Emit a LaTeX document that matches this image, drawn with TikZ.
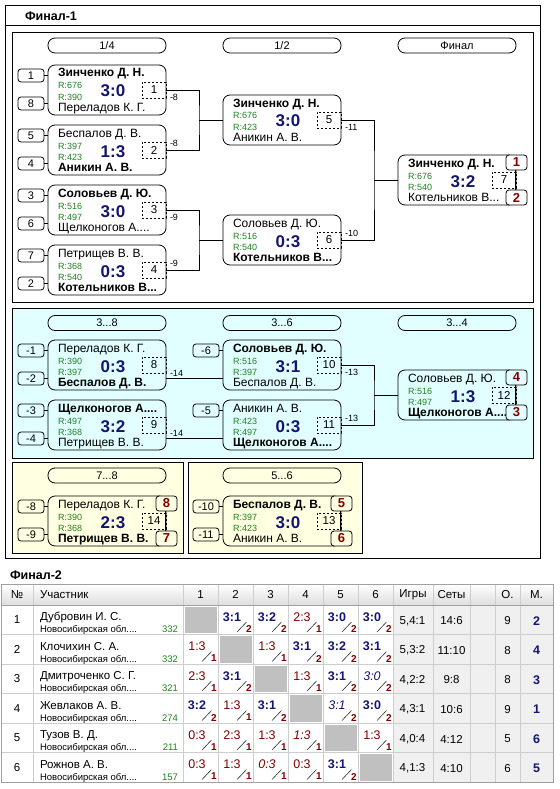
\documentclass[tikz,border=0pt]{standalone}
\usepackage{fontspec}
\setmainfont{Liberation Sans}
\usetikzlibrary{calc}
\definecolor{scblue}{RGB}{20,20,115}
\definecolor{rgreen}{RGB}{30,130,30}
\definecolor{plred}{RGB}{128,0,0}
\definecolor{cyanbg}{RGB}{225,255,255}
\definecolor{yelbg}{RGB}{255,255,225}
\definecolor{tgrid}{RGB}{205,205,205}
\definecolor{tbord}{RGB}{160,160,160}
\definecolor{diagc}{RGB}{192,192,192}
\definecolor{statbg}{RGB}{240,240,240}
\definecolor{hdrc}{RGB}{222,222,222}
\newcommand{\fz}[1]{\fontsize{#1}{#1}\selectfont}
\tikzset{
  every node/.style={inner sep=0pt, outer sep=0pt},
  fzframe/.style={draw=black, line width=0.8pt},
  fzmatch/.style={draw, rounded corners=7pt, minimum width=118, minimum height=50, line width=0.8pt},
  fzpill/.style={draw, rounded corners=7pt, minimum width=118, minimum height=15, font=\fz{11}, line width=0.8pt},
  fzseed/.style={draw, rounded corners=3pt, minimum width=26, minimum height=13, font=\fz{11}, line width=0.8pt},
  fzdash/.style={draw, dash pattern=on 2pt off 2pt, minimum width=24, minimum height=16, font=\fz{11.5}, line width=0.7pt},
  fzplace/.style={draw, rounded corners=3pt, minimum width=21, minimum height=15, font=\bfseries\fz{13}, text=plred, line width=0.8pt},
  fzname/.style={anchor=base west, font=\fz{12}},
  fzrate/.style={anchor=base west, font=\fz{9}, text=rgreen},
  fzscore/.style={anchor=base, font=\bfseries\fz{17}, text=scblue},
  fzlbl/.style={anchor=west, font=\fz{9}},
  fzconn/.style={line width=0.8pt},
  fztxt/.style={font=\fz{11.5}},
  fzreg/.style={font=\fz{9.5}},
  fzW/.style={font=\bfseries\fz{12.5}, text=scblue},
  fzL/.style={font=\fz{12.5}, text=plred},
  fzWI/.style={font=\itshape\fz{12.5}, text=scblue},
  fzLI/.style={font=\itshape\fz{12.5}, text=plred},
  fzpts/.style={font=\bfseries\fz{10}, text=plred},
  fzslash/.style={line width=0.6pt, draw=black!80},
  tblg/.style={draw=tgrid, line width=0.7pt},
  tblb/.style={draw=tbord, line width=0.8pt},
}
\newcommand{\fzMatch}[9]{%
  \begin{scope}[shift={(#2,#3)}]
    \node[fzmatch] (#1) at (59,25) {};
    \node[fzname] (#1t) at (10,12) {#4};
    \node[fzrate] (#1ra) at (10,24) {R:#5};
    \node[fzrate] (#1rb) at (10,35.5) {R:#6};
    \node[fzscore] (#1s) at (65,32) {#7};
    \node[fzdash] (#1d) at (106,25) {#8};
    \node[fzname] (#1b) at (10,46) {#9};
  \end{scope}}
\newcommand{\fzSeed}[4]{%
  \node[fzseed] (#1) at (#2) {#4};
  \draw[fzconn] (#1.east) -- (#1.east -| #3.west);}
\newcommand{\fzPlaces}[6]{% match, name1, text1, name2, text2, fill
  \node[fzplace, fill=#6] (#2) at ($(#1.north east)+(0.5,7.5)$) {#3};
  \node[fzplace, fill=#6] (#4) at ($(#1.south east)+(0.5,-7.5)$) {#5};
  \draw[fzconn] ([xshift=-1pt]#2.south) -- ([xshift=-1pt]#4.north);}
\newcommand{\fzCell}[5]{%
  \pgfmathsetmacro{\fzcx}{183+35*(#2-1)}%
  \pgfmathsetmacro{\fzry}{605+29.5*(#1-1)}%
  \node[#5] (s#1#2) at (\fzcx+14,\fzry+12) {#3};
  \draw[fzslash] (\fzcx+19,\fzry+27) -- (\fzcx+28.5,\fzry+17);
  \node[fzpts] (q#1#2) at (\fzcx+31,\fzry+24) {#4};}
\newcommand{\fzDiag}[1]{%
  \pgfmathsetmacro{\fzcx}{183+35*(#1-1)}%
  \pgfmathsetmacro{\fzry}{605+29.5*(#1-1)}%
  \fill[diagc] (\fzcx+1.5,\fzry+1.5) rectangle (\fzcx+33.5,\fzry+28);}
\newcommand{\fzRow}[7]{%
  \pgfmathsetmacro{\fzry}{605+29.5*(#1-1)}%
  \node[fztxt] (tn#1) at (17,\fzry+15) {#1};
  \node[fztxt, anchor=base west] (tnm#1) at (40,\fzry+15.5) {#2};
  \node[fzreg, anchor=base west] (trg#1) at (40,\fzry+27.5) {Новосибирская обл....};
  \node[fzreg, anchor=base east, text=rgreen] (trt#1) at (178,\fzry+27.5) {#3};
  \node[fztxt] (tg#1) at (412.5,\fzry+16) {#4};
  \node[fztxt] (tst#1) at (451.5,\fzry+16) {#5};
  \node[fztxt] (to#1) at (507.5,\fzry+16) {#6};
  \node[font=\bfseries\fz{12.5}, text=scblue] (tm#1) at (536.5,\fzry+16) {#7};}
\begin{document}
\begin{tikzpicture}[x=1pt,y=-1pt]
\useasboundingbox[fill=white] (0,0) rectangle (559,789);

% ---------- Финал-1 frames
\draw[fzframe] (5,5) rectangle (540,558);
\draw[fzframe] (5,25) -- (540,25);
\node[anchor=west, font=\bfseries\fz{12.5}] (title1) at (25,16) {Финал-1};
\draw[fzframe] (12,32) rectangle (533,302);
\filldraw[fzframe, fill=cyanbg] (12,308) rectangle (533,458);
\filldraw[fzframe, fill=yelbg] (12,462) rectangle (183,553);
\filldraw[fzframe, fill=yelbg] (188,462) rectangle (362,553);

% ---------- round headers
\node[fzpill] (h1) at (107,45.5) {1/4};
\node[fzpill] (h2) at (282,45.5) {1/2};
\node[fzpill] (h3) at (457,45.5) {Финал};
\node[fzpill] (h4) at (107,323) {3...8};
\node[fzpill] (h5) at (282,323) {3...6};
\node[fzpill] (h6) at (457,323) {3...4};
\node[fzpill] (h7) at (107,475.5) {7...8};
\node[fzpill] (h8) at (282,475.5) {5...6};

% ---------- matches
\fzMatch{m1}{48}{65}{\bfseries Зинченко Д. Н.}{676}{390}{3:0}{1}{Переладов К. Г.}
\fzMatch{m2}{48}{125}{Беспалов Д. В.}{397}{423}{1:3}{2}{\bfseries Аникин А. В.}
\fzMatch{m3}{48}{185}{\bfseries Соловьев Д. Ю.}{516}{497}{3:0}{3}{Щелконогов А....}
\fzMatch{m4}{48}{245}{Петрищев В. В.}{368}{540}{0:3}{4}{\bfseries Котельников В...}
\fzMatch{m5}{223}{95}{\bfseries Зинченко Д. Н.}{676}{423}{3:0}{5}{Аникин А. В.}
\fzMatch{m6}{223}{215}{Соловьев Д. Ю.}{516}{540}{0:3}{6}{\bfseries Котельников В...}
\fzMatch{m7}{398}{155}{\bfseries Зинченко Д. Н.}{676}{540}{3:2}{7}{Котельников В...}
\fzMatch{m8}{48}{340}{Переладов К. Г.}{390}{397}{0:3}{8}{\bfseries Беспалов Д. В.}
\fzMatch{m9}{48}{400}{\bfseries Щелконогов А....}{497}{368}{3:2}{9}{Петрищев В. В.}
\fzMatch{m10}{223}{340}{\bfseries Соловьев Д. Ю.}{516}{397}{3:1}{10}{Беспалов Д. В.}
\fzMatch{m11}{223}{400}{Аникин А. В.}{423}{497}{0:3}{11}{\bfseries Щелконогов А....}
\fzMatch{m12}{398}{370}{Соловьев Д. Ю.}{516}{497}{1:3}{12}{\bfseries Щелконогов А....}
\fzMatch{m14}{48}{496}{Переладов К. Г.}{390}{368}{2:3}{14}{\bfseries Петрищев В. В.}
\fzMatch{m13}{223}{496}{\bfseries Беспалов Д. В.}{397}{423}{3:0}{13}{Аникин А. В.}

% ---------- seeds
\fzSeed{sd1}{31,75.5}{m1}{1}
\fzSeed{sd8}{31,103.5}{m1}{8}
\fzSeed{sd5}{31,135.5}{m2}{5}
\fzSeed{sd4}{31,163.5}{m2}{4}
\fzSeed{sd3}{31,195.5}{m3}{3}
\fzSeed{sd6}{31,223.5}{m3}{6}
\fzSeed{sd7}{31,255.5}{m4}{7}
\fzSeed{sd2}{31,283.5}{m4}{2}
\fzSeed{sdm1}{31,350.5}{m8}{-1}
\fzSeed{sdm2}{31,378.5}{m8}{-2}
\fzSeed{sdm3}{31,410.5}{m9}{-3}
\fzSeed{sdm4}{31,438.5}{m9}{-4}
\fzSeed{sdm6}{206,350.5}{m10}{-6}
\fzSeed{sdm5}{206,410.5}{m11}{-5}
\fzSeed{sdm8}{31,506.5}{m14}{-8}
\fzSeed{sdm9}{31,534.5}{m14}{-9}
\fzSeed{sdm10}{206,506.5}{m13}{-10}
\fzSeed{sdm11}{206,534.5}{m13}{-11}

% ---------- connectors, main bracket
\coordinate (v1) at (199,120);
\coordinate (v2) at (199,240);
\coordinate (v3) at (374,180);
\coordinate (v4) at (374,395);
\draw[fzconn] (m1.east) -| (v1) |- (m2.east);
\draw[fzconn] (v1) -- (m5.west);
\draw[fzconn] (m3.east) -| (v2) |- (m4.east);
\draw[fzconn] (v2) -- (m6.west);
\draw[fzconn] (m5.east) -| (v3) |- (m6.east);
\draw[fzconn] (v3) -- (m7.west);
\draw[fzconn] ([yshift=-13pt]m8.east) -- ([yshift=-13pt]m10.west);
\draw[fzconn] ([yshift=-13pt]m9.east) -- ([yshift=-13pt]m11.west);
\draw[fzconn] (m10.east) -| (v4) |- (m11.east);
\draw[fzconn] (v4) -- (m12.west);

% ---------- loser labels
\node[fzlbl] (l1) at (170,97) {-8};
\node[fzlbl] (l2) at (170,143) {-8};
\node[fzlbl] (l3) at (170,217) {-9};
\node[fzlbl] (l4) at (170,263) {-9};
\node[fzlbl] (l5) at (345,127) {-11};
\node[fzlbl] (l6) at (345,233) {-10};
\node[fzlbl] (l8) at (170,373) {-14};
\node[fzlbl] (l9) at (170,433) {-14};
\node[fzlbl] (l10) at (345,372) {-13};
\node[fzlbl] (l11) at (345,418) {-13};

% ---------- places
\fzPlaces{m7}{fin1}{1}{fin2}{2}{white}
\fzPlaces{m12}{fin4}{4}{fin3}{3}{cyanbg}
\fzPlaces{m14}{fin8}{8}{fin7}{7}{yelbg}
\fzPlaces{m13}{fin5}{5}{fin6}{6}{yelbg}

% ---------- Финал-2 table
\node[anchor=west, font=\bfseries\fz{12.5}] (title2) at (10,575) {Финал-2};
\fill[top color=white, bottom color=hdrc] (1,584) rectangle (553,605);
\fill[statbg] (393,605) rectangle (553,782);
\foreach \k in {1,...,6} {\fzDiag{\k}}
\foreach \xx in {33,183,218,253,288,323,358,393,433,470,495,520}
  \draw[tblg] (\xx,584) -- (\xx,782);
\foreach \yy in {634.5,664,693.5,723,752.5}
  \draw[tblg] (1,\yy) -- (553,\yy);
\draw[tblb] (1,605) -- (553,605);
\draw[tblb] (1,584) rectangle (553,782);

\node[fztxt] (hn) at (17,594.5) {№};
\node[fztxt, anchor=west] (hp) at (40,594.5) {Участник};
\foreach \k in {1,...,6} \node[fztxt] (hc\k) at ({183+35*(\k-1)+17.5},594.5) {\k};
\node[fztxt] (hg) at (413,594.5) {Игры};
\node[fztxt] (hs) at (451.5,594.5) {Сеты};
\node[fztxt] (ho) at (507.5,594.5) {О.};
\node[fztxt] (hm) at (536.5,594.5) {М.};

\fzRow{1}{Дубровин И. С.}{332}{5,4:1}{14:6}{9}{2}
\fzRow{2}{Клочихин С. А.}{332}{5,3:2}{11:10}{8}{4}
\fzRow{3}{Дмитроченко С. Г.}{321}{4,2:2}{9:8}{8}{3}
\fzRow{4}{Жевлаков А. В.}{274}{4,3:1}{10:6}{9}{1}
\fzRow{5}{Тузов В. Д.}{211}{4,0:4}{4:12}{5}{6}
\fzRow{6}{Рожнов А. В.}{157}{4,1:3}{4:10}{6}{5}

\fzCell{1}{2}{3:1}{2}{fzW}
\fzCell{1}{3}{3:2}{2}{fzW}
\fzCell{1}{4}{2:3}{1}{fzL}
\fzCell{1}{5}{3:0}{2}{fzW}
\fzCell{1}{6}{3:0}{2}{fzW}
\fzCell{2}{1}{1:3}{1}{fzL}
\fzCell{2}{3}{1:3}{1}{fzL}
\fzCell{2}{4}{3:1}{2}{fzW}
\fzCell{2}{5}{3:2}{2}{fzW}
\fzCell{2}{6}{3:1}{2}{fzW}
\fzCell{3}{1}{2:3}{1}{fzL}
\fzCell{3}{2}{3:1}{2}{fzW}
\fzCell{3}{4}{1:3}{1}{fzL}
\fzCell{3}{5}{3:1}{2}{fzW}
\fzCell{3}{6}{3:0}{2}{fzWI}
\fzCell{4}{1}{3:2}{2}{fzW}
\fzCell{4}{2}{1:3}{1}{fzL}
\fzCell{4}{3}{3:1}{2}{fzW}
\fzCell{4}{5}{3:1}{2}{fzWI}
\fzCell{4}{6}{3:0}{2}{fzW}
\fzCell{5}{1}{0:3}{1}{fzL}
\fzCell{5}{2}{2:3}{1}{fzL}
\fzCell{5}{3}{1:3}{1}{fzL}
\fzCell{5}{4}{1:3}{1}{fzLI}
\fzCell{5}{6}{1:3}{1}{fzL}
\fzCell{6}{1}{0:3}{1}{fzL}
\fzCell{6}{2}{1:3}{1}{fzL}
\fzCell{6}{3}{0:3}{1}{fzLI}
\fzCell{6}{4}{0:3}{1}{fzL}
\fzCell{6}{5}{3:1}{2}{fzW}
\end{tikzpicture}
\end{document}
